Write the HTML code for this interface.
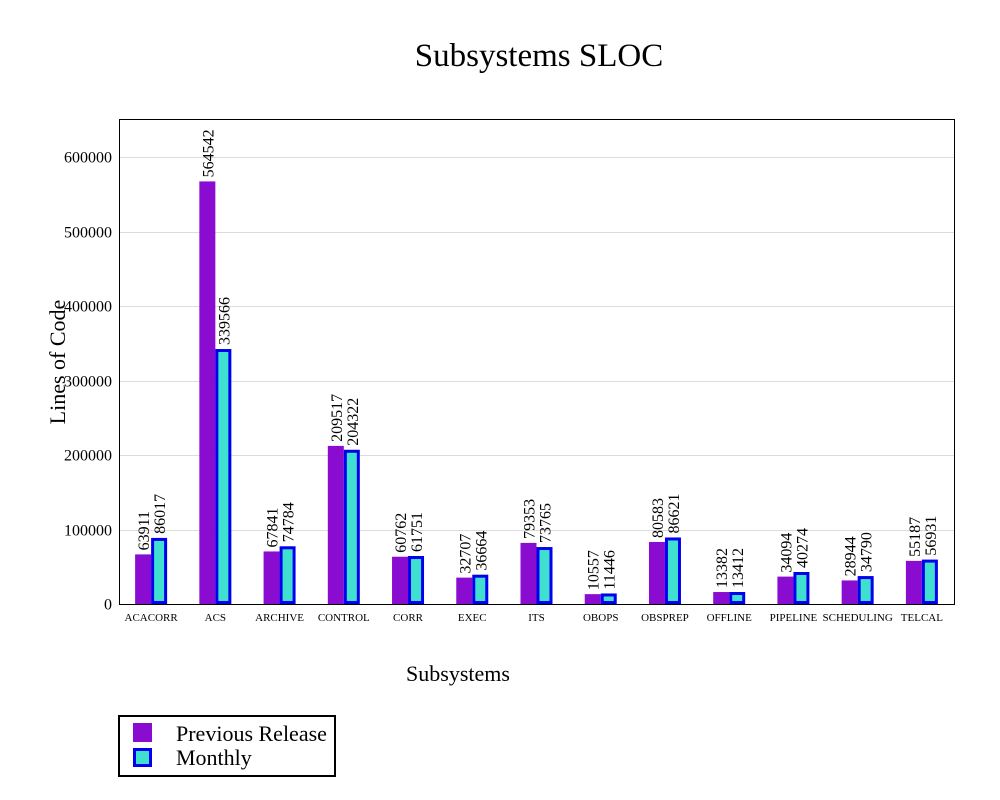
<!DOCTYPE html>
<html><head><meta charset="utf-8"><style>
body{margin:0;background:#fff;}
svg text{font-family:"Liberation Serif",serif;fill:#000;}
</style></head><body>
<svg id="chart" width="1000" height="795" viewBox="0 0 1000 795">
<text x="539" y="66" font-size="33" text-anchor="middle">Subsystems SLOC</text>
<g id="grid"></g>
<g id="bars"></g>
<rect x="119.5" y="119.5" width="835" height="485" fill="none" stroke="#000" stroke-width="1"/>
<g id="axes"></g>
<text x="458" y="681" font-size="22" text-anchor="middle">Subsystems</text>
<text transform="translate(65,362) rotate(-90)" font-size="22" text-anchor="middle">Lines of Code</text>
<g>
<rect x="119" y="716" width="216" height="60" fill="#fff" stroke="#000" stroke-width="2"/>
<rect x="133" y="723" width="19" height="19" fill="#8a0cd0"/>
<text x="176" y="741" font-size="22">Previous Release</text>
<rect x="134.5" y="749.5" width="16" height="16" fill="#40e0d0" stroke="#0000ee" stroke-width="3"/>
<text x="176" y="765" font-size="22">Monthly</text>
</g>
</svg>
<script>
const categories=["ACACORR","ACS","ARCHIVE","CONTROL","CORR","EXEC","ITS","OBOPS","OBSPREP","OFFLINE","PIPELINE","SCHEDULING","TELCAL"];
const previousRelease=[63911,564542,67841,209517,60762,32707,79353,10557,80583,13382,34094,28944,55187];
const monthly=[86017,339566,74784,204322,61751,36664,73765,11446,86621,13412,40274,34790,56931];
const yTicks=[0,100000,200000,300000,400000,500000,600000];
const NS="http://www.w3.org/2000/svg";
const X0=119,X1=954,Y0=604,Ytop=157;
function y(v){return Y0-(v/600000)*(Y0-Ytop)-2;}
function xc(i){return X0+(X1-X0)/categories.length*(i+0.5);}
function mk(tag,attrs,parent){const e=document.createElementNS(NS,tag);for(const k in attrs)e.setAttribute(k,attrs[k]);parent.appendChild(e);return e;}
const grid=document.getElementById('grid'),bars=document.getElementById('bars'),axes=document.getElementById('axes');
yTicks.forEach(t=>{
  const yy=Math.round(Y0-(t/600000)*(Y0-Ytop))+0.5;
  if(t>0){const l=mk('line',{x1:X0,x2:X1,y1:yy,y2:yy,stroke:'#dcdcdc','stroke-width':1},grid);
  
  }
  const tx=mk('text',{x:112,y:yy+5,'font-size':16,'text-anchor':'end'},axes);
  tx.textContent=t;
  
  
});
categories.forEach((c,i)=>{
  const cx=xc(i);
  const p=mk('rect',{x:cx-16,y:y(previousRelease[i]),width:16,height:Y0-y(previousRelease[i]),fill:'#8a0cd0'},bars);
  
  
  const mh=Y0-y(monthly[i]);
  const m=mk('rect',{x:cx+1.5,y:y(monthly[i])+1.5,width:13,height:Math.max(mh-3,0.5),fill:'#40e0d0',stroke:'#0000ee','stroke-width':3},bars);
  
  
  const lp=mk('text',{transform:`translate(${cx-2},${y(previousRelease[i])-4}) rotate(-90)`,'font-size':16},bars);
  lp.textContent=previousRelease[i];
  
  
  const lm=mk('text',{transform:`translate(${cx+14},${y(monthly[i])-4}) rotate(-90)`,'font-size':16},bars);
  lm.textContent=monthly[i];
  
  
  const xl=mk('text',{x:cx,y:621,'font-size':11,'text-anchor':'middle'},axes);
  xl.textContent=c;
  
  
});
</script>
</body></html>
